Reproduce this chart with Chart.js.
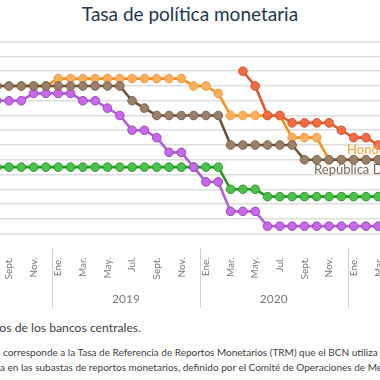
<!DOCTYPE html>
<html>
<head>
<meta charset="utf-8">
<script src="https://cdn.jsdelivr.net/npm/chart.js@4/dist/chart.umd.min.js"></script>
<style>
html,body{margin:0;padding:0;width:380px;height:380px;overflow:hidden;background:#fff;font-family:Lato,"Noto Sans",sans-serif;}
#title{position:absolute;top:4px;left:0;width:380px;text-align:center;font-size:19px;line-height:19px;color:#22364a;white-space:nowrap;}
#wrap{position:absolute;left:0;top:0;width:380px;height:312px;}
canvas{display:block;}
.note{position:absolute;white-space:nowrap;color:#3e3e3e;}
.pre{position:absolute;right:100%;top:0;}
</style>
</head>
<body>
<div id="title">Tasa de política monetaria</div>
<div id="wrap"><canvas id="c" width="380" height="312"></canvas></div>
<div class="note" style="right:239px;top:322px;font-size:12.2px;line-height:12.2px;">Fuente: elaboración propia con datos de los bancos centrales.</div>
<div class="note" style="left:3px;top:346.5px;font-size:10px;line-height:10px;"><span class="pre">Nota: para Nicaragua&nbsp;</span>corresponde a la Tasa de Referencia de Reportos Monetarios (TRM) que el BCN utiliza como tasa</div>
<div class="note" style="left:0px;top:361.5px;font-size:10px;line-height:10px;"><span class="pre">tas</span>a en las subastas de reportos monetarios, definido por el Comité de Operaciones de Mercado Abierto.</div>
<script>
// Months from Aug 2018 (index 0) to Mar 2021 (index 31)
const monthLabels = ['Ago.','Sept.','Oct.','Nov.','Dic.','Ene.','Feb.','Mar.','Abr.','May.','Jun.','Jul.','Ago.','Sept.','Oct.','Nov.','Dic.','Ene.','Feb.','Mar.','Abr.','May.','Jun.','Jul.','Ago.','Sept.','Oct.','Nov.','Dic.','Ene.','Feb.','Mar.'];
const tickIndex = [1,3,5,7,9,11,13,15,17,19,21,23,25,27,29,31];
const yearNames = ['2019','2020'];
const yearCenters = [10.5, 22.5];
const yearBounds = [4.5, 16.5, 28.5];

const nicaragua = [null,null,null,null,null,null,null,null,null,null,null,null,null,null,null,null,null,null,null,null,6.00,5.50,4.50,4.50,4.25,4.25,4.25,4.25,4.00,3.75,3.75,3.50];
const republicaDominicana = [5.50,5.50,5.50,5.50,5.50,5.50,5.50,5.50,5.50,5.50,5.50,5.00,4.75,4.50,4.50,4.50,4.50,4.50,4.50,3.50,3.50,3.50,3.50,3.50,3.50,3.00,3.00,3.00,3.00,3.00,3.00,3.00];
const costaRica = [5.00,5.00,5.00,5.25,5.25,5.25,5.25,5.00,5.00,4.75,4.50,4.00,4.00,3.75,3.25,3.25,2.75,2.25,2.25,1.25,1.25,1.25,0.75,0.75,0.75,0.75,0.75,0.75,0.75,0.75,0.75,0.75];
const guatemala = [2.75,2.75,2.75,2.75,2.75,2.75,2.75,2.75,2.75,2.75,2.75,2.75,2.75,2.75,2.75,2.75,2.75,2.75,2.75,2.00,2.00,2.00,1.75,1.75,1.75,1.75,1.75,1.75,1.75,1.75,1.75,1.75];
const honduras = [5.50,5.50,5.50,5.50,5.50,5.75,5.75,5.75,5.75,5.75,5.75,5.75,5.75,5.75,5.75,5.75,5.50,5.50,5.25,4.50,4.50,4.50,4.50,4.50,3.75,3.75,3.75,3.00,3.00,3.00,3.00,3.00];

const endLabels = [
  {text:'Honduras', color:'#f6a03e', x:28.46, y:3.34},
  {text:'República Dominicana', color:'#7b6752', x:25.78, y:2.67}
];

function pts(arr){ return arr.map((v,i)=>({x:i,y:v})); }
function ds(label, arr, line, fill, border){
  return {label, data:pts(arr), borderColor:line, backgroundColor:fill, pointBackgroundColor:fill, pointBorderColor:border,
    borderWidth:2.6, pointRadius:4.3, pointBorderWidth:1, tension:0, spanGaps:false};
}

const overlay = {
  id:'overlay',
  afterDatasetsDraw(chart){
    const {ctx, scales:{x,y}} = chart;
    ctx.save();
    ctx.font = '13px Lato';
    ctx.textAlign = 'left';
    ctx.textBaseline = 'middle';
    endLabels.forEach(l=>{ ctx.fillStyle = l.color; ctx.fillText(l.text, x.getPixelForValue(l.x), y.getPixelForValue(l.y)); });
    ctx.restore();
  },
  afterDraw(chart){
    const {ctx, chartArea, scales:{x}} = chart;
    ctx.save();
    ctx.strokeStyle = '#d2d2d2';
    ctx.lineWidth = 1;
    yearBounds.forEach(b=>{
      const px = Math.round(x.getPixelForValue(b)) + 0.5;
      ctx.beginPath(); ctx.moveTo(px, chartArea.bottom); ctx.lineTo(px, 308); ctx.stroke();
    });
    ctx.fillStyle = '#777';
    ctx.font = '12px Lato';
    ctx.textAlign = 'center';
    ctx.textBaseline = 'middle';
    yearNames.forEach((n,k)=> ctx.fillText(n, x.getPixelForValue(yearCenters[k]), 299));
    ctx.restore();
  }
};

function draw(){
  Chart.defaults.font.family = 'Lato';
  new Chart(document.getElementById('c'), {
    type:'line',
    data:{ datasets:[
      ds('Nicaragua', nicaragua, '#e1562c', '#f26d43', '#d4502a'),
      ds('República Dominicana', republicaDominicana, '#6e5233', '#9a806b', '#7a624d'),
      ds('Costa Rica', costaRica, '#b25fd3', '#c868ea', '#9a45bd'),
      ds('Guatemala', guatemala, '#1f9a1f', '#4cc24c', '#2c9a2c'),
      ds('Honduras', honduras, '#f5901e', '#fbb060', '#f29a3a')
    ]},
    options:{
      responsive:false, animation:false, devicePixelRatio:1,
      layout:{autoPadding:false, padding:{top:41.7, left:0, right:0, bottom:0}},
      plugins:{legend:{display:false}, tooltip:{enabled:false}, title:{display:false}},
      scales:{
        x:{ type:'linear', min:0.269, max:31.138,
          grid:{display:false, drawTicks:false}, border:{display:false},
          afterBuildTicks:(axis)=>{ axis.ticks = tickIndex.map(v=>({value:v})); },
          afterFit:(axis)=>{ axis.height = 63.7; axis.paddingLeft = 0; axis.paddingRight = 0; },
          ticks:{ autoSkip:false, minRotation:90, maxRotation:90, padding:9, color:'#777', font:{size:10},
            callback:(v)=> monthLabels[v] }
        },
        y:{ min:0, max:7,
          afterBuildTicks:(axis)=>{ const t=[]; for(let v=0.5; v<=7.001; v+=0.5) t.push({value:v}); axis.ticks=t; },
          afterFit:(axis)=>{ axis.width = 0; },
          grid:{color:'#dddddd', lineWidth:1.5, drawTicks:false}, border:{display:false},
          ticks:{display:false}
        }
      }
    },
    plugins:[overlay]
  });
}
if (document.fonts && document.fonts.load) {
  document.fonts.load('12px Lato').then(draw, draw);
} else draw();
</script>
</body>
</html>
